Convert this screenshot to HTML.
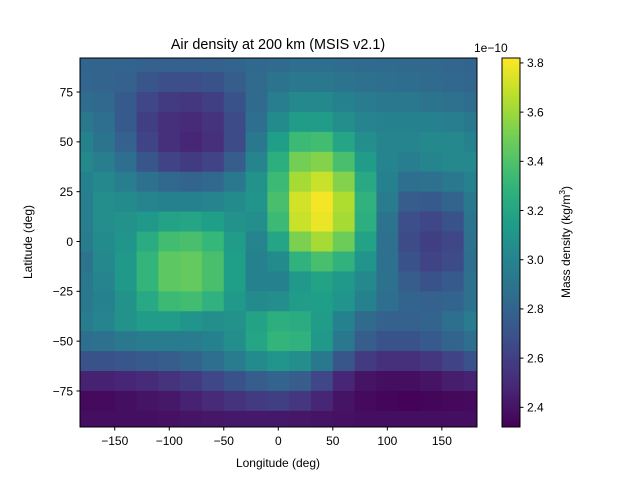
<!DOCTYPE html>
<html><head><meta charset="utf-8"><style>
body{margin:0;background:#fff}
svg{font-family:"Liberation Sans","DejaVu Sans",sans-serif}
</style></head><body>
<svg id="chart" width="640" height="480" viewBox="0 0 640 480">
<defs><clipPath id="clip"><rect x="80" y="58" width="397" height="369"/></clipPath>
<linearGradient id="cbgrad" x1="0" y1="1" x2="0" y2="0"></linearGradient></defs>
<text x="278" y="49" text-anchor="middle" font-size="14.4">Air density at 200 km (MSIS v2.1)</text>
<g id="cells" clip-path="url(#clip)"></g>
<rect x="80" y="58" width="397" height="369" fill="none" stroke="#000" stroke-width="1"/>
<g id="axes" font-size="12"></g>
<text x="278" y="467" text-anchor="middle" font-size="12">Longitude (deg)</text>
<text transform="translate(32,242) rotate(-90)" text-anchor="middle" font-size="12">Latitude (deg)</text>
<rect x="502" y="58" width="18" height="369" fill="url(#cbgrad)"/>
<rect x="502" y="58" width="18" height="369" fill="none" stroke="#000" stroke-width="1"/>
<text x="474" y="52" font-size="12">1e−10</text>
<text transform="translate(570,242) rotate(-90)" text-anchor="middle" font-size="12">Mass density (kg/m<tspan dy="-5" font-size="8.5">3</tspan><tspan dy="5">)</tspan></text>
</svg>
<script>
const lons=[-180,-160,-140,-120,-100,-80,-60,-40,-20,0,20,40,60,80,100,120,140,160,180];
const lats=[90,80,70,60,50,40,30,20,10,0,-10,-20,-30,-40,-50,-60,-70,-80,-90];
const density=[
[2.80,2.80,2.80,2.78,2.78,2.78,2.78,2.80,2.82,2.84,2.86,2.86,2.85,2.84,2.83,2.82,2.82,2.81,2.80],
[2.81,2.80,2.78,2.72,2.68,2.68,2.70,2.76,2.84,2.90,2.92,2.92,2.90,2.88,2.86,2.85,2.84,2.82,2.81],
[2.85,2.82,2.74,2.64,2.58,2.56,2.60,2.70,2.84,2.96,3.02,3.02,2.98,2.94,2.92,2.92,2.90,2.88,2.85],
[2.92,2.86,2.74,2.60,2.52,2.50,2.54,2.66,2.86,3.04,3.14,3.14,3.06,3.00,2.98,2.98,2.98,2.96,2.92],
[2.98,2.90,2.78,2.62,2.52,2.48,2.52,2.66,2.92,3.16,3.34,3.36,3.20,3.06,3.00,3.00,3.02,3.02,2.98],
[3.02,2.96,2.86,2.72,2.62,2.58,2.62,2.76,3.00,3.26,3.50,3.54,3.38,3.14,3.00,2.96,3.00,3.02,3.02],
[2.98,3.02,2.96,2.88,2.82,2.80,2.82,2.92,3.08,3.34,3.62,3.70,3.54,3.22,2.98,2.86,2.88,2.92,2.98],
[2.96,3.06,3.04,3.00,2.98,2.98,3.00,3.04,3.10,3.38,3.72,3.80,3.64,3.28,2.94,2.76,2.74,2.80,2.92],
[2.96,3.06,3.08,3.12,3.18,3.20,3.16,3.08,3.06,3.34,3.70,3.78,3.62,3.26,2.90,2.68,2.64,2.70,2.90],
[2.94,3.04,3.10,3.24,3.36,3.38,3.32,3.14,3.00,3.20,3.52,3.62,3.48,3.18,2.88,2.66,2.60,2.64,2.88],
[2.90,3.02,3.12,3.30,3.44,3.46,3.38,3.16,2.98,3.04,3.28,3.38,3.28,3.10,2.88,2.70,2.62,2.66,2.86],
[2.92,3.00,3.12,3.30,3.44,3.46,3.38,3.16,2.98,2.98,3.12,3.18,3.12,3.02,2.88,2.76,2.70,2.74,2.88],
[2.92,2.98,3.08,3.22,3.34,3.36,3.28,3.12,3.04,3.06,3.14,3.16,3.10,2.98,2.86,2.80,2.78,2.80,2.88],
[2.94,3.00,3.08,3.14,3.14,3.10,3.06,3.08,3.18,3.26,3.24,3.14,2.98,2.84,2.78,2.78,2.80,2.86,2.94],
[2.86,2.88,2.92,2.94,2.94,2.94,2.98,3.06,3.20,3.30,3.28,3.12,2.92,2.76,2.70,2.70,2.74,2.80,2.86],
[2.70,2.70,2.72,2.74,2.76,2.80,2.86,2.94,3.04,3.10,3.06,2.92,2.72,2.58,2.52,2.52,2.56,2.62,2.70],
[2.46,2.46,2.48,2.50,2.54,2.58,2.64,2.70,2.76,2.80,2.76,2.64,2.48,2.40,2.38,2.38,2.40,2.44,2.46],
[2.36,2.36,2.38,2.40,2.42,2.46,2.50,2.54,2.58,2.60,2.56,2.48,2.40,2.36,2.34,2.33,2.34,2.35,2.36],
[2.38,2.38,2.38,2.38,2.39,2.40,2.41,2.42,2.42,2.42,2.41,2.40,2.39,2.38,2.38,2.38,2.38,2.38,2.38]
];
const xTicks=[-150,-100,-50,0,50,100,150];
const yTicks=[75,50,25,0,-25,-50,-75];
const cTicks=[2.4,2.6,2.8,3.0,3.2,3.4,3.6,3.8];
const vmin=2.32, vmax=3.82;
const NS="http://www.w3.org/2000/svg";
const X=lon=>278.3+(lon)*1.0904;
const Y=lat=>241.5-lat*1.993;
const CY=v=>427-(v-vmin)/(vmax-vmin)*369;
const VIR=[[68,1,84],[72,40,120],[62,74,137],[49,104,142],[38,130,142],[31,158,137],[53,183,121],[109,205,89],[180,222,44],[253,231,37]];
function color(v){let t=Math.max(0,Math.min(1,(v-vmin)/(vmax-vmin)))*(VIR.length-1);let i=Math.min(Math.floor(t),VIR.length-2),f=t-i;
const c=VIR[i].map((a,k)=>Math.round(a+(VIR[i+1][k]-a)*f));return `rgb(${c[0]},${c[1]},${c[2]})`;}
function mk(tag,attrs,parent){const e=document.createElementNS(NS,tag);for(const k in attrs)e.setAttribute(k,attrs[k]);parent.appendChild(e);return e;}
const cells=document.getElementById('cells');
lats.forEach((lat,r)=>lons.forEach((lon,c)=>{
  const x0=X(lon-10),x1=X(lon+10),y0=Y(lat+5),y1=Y(lat-5);
  const e=mk('rect',{x:x0,y:y0,width:x1-x0+0.5,height:y1-y0+0.5,fill:color(density[r][c])},cells);
  
  
}));
const g=document.getElementById('cbgrad');
for(let i=0;i<=20;i++){const v=vmin+(vmax-vmin)*i/20;mk('stop',{offset:(i/20),'stop-color':color(v)},g);}
const axes=document.getElementById('axes');
xTicks.forEach(t=>{const x=X(t);
  const l=mk('line',{x1:x,x2:x,y1:427,y2:430.5,stroke:'#000'},axes);
  
  
  const s=mk('text',{x:x,y:445,'text-anchor':'middle'},axes);s.textContent=String(t).replace('-','−');
  
  });
yTicks.forEach(t=>{const y=Y(t);
  const l=mk('line',{x1:76.5,x2:80,y1:y,y2:y,stroke:'#000'},axes);
  
  
  const s=mk('text',{x:73,y:y+4.3,'text-anchor':'end'},axes);s.textContent=String(t).replace('-','−');
  
  });
cTicks.forEach(t=>{const y=CY(t);
  const l=mk('line',{x1:520,x2:523.5,y1:y,y2:y,stroke:'#000'},axes);
  
  
  const s=mk('text',{x:527,y:y+4.3},axes);s.textContent=t.toFixed(1);
  
  });
</script>
</body></html>
